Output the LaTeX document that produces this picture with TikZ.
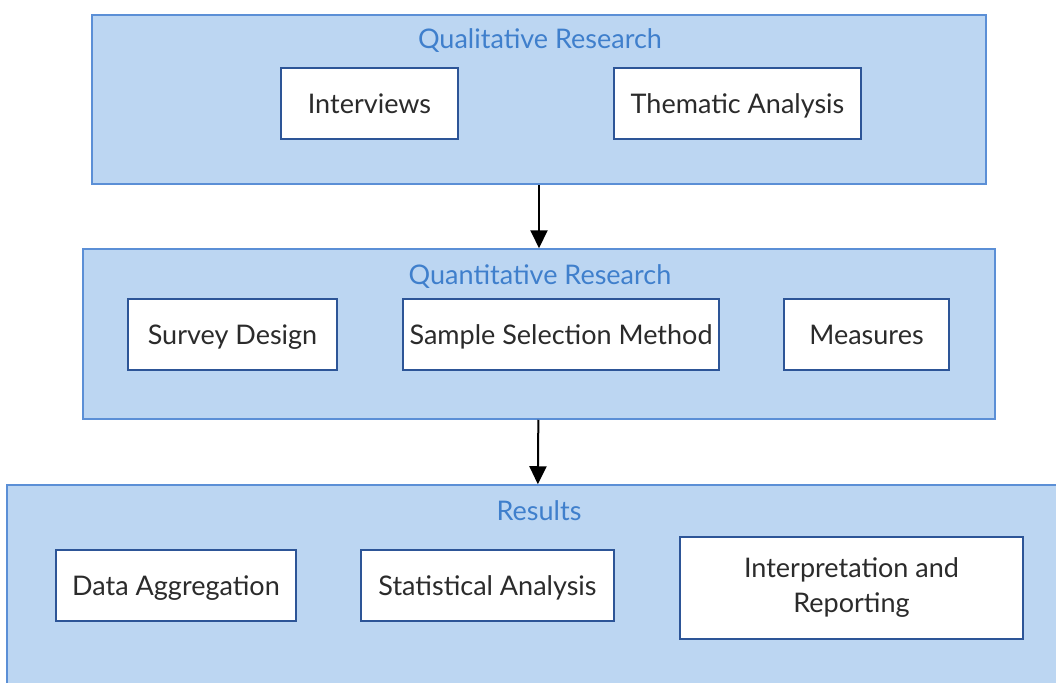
\documentclass[tikz,border=0pt]{standalone}
\usepackage{fontspec}
\setmainfont{Lato}
\usepackage{tikz}
\usepackage{xcolor}
\usetikzlibrary{arrows.meta}

\definecolor{panelfill}{HTML}{BCD6F2}
\definecolor{paneldraw}{HTML}{5B8FD6}
\definecolor{titleblue}{HTML}{3F7FCC}
\definecolor{stepdraw}{HTML}{2D5597}
\definecolor{textgray}{HTML}{2B2B2B}

\begin{document}
\begin{tikzpicture}[x=1pt,y=-1pt]
\clip (0,0) rectangle (1056,682);
\fill[white] (0,0) rectangle (1056,682);
\begin{scope}[every node/.style={rectangle, fill=panelfill, draw=paneldraw, line width=1.5pt, inner sep=0pt}]
\node[minimum width=894pt, minimum height=169pt] (QUAL) at (539,99.5) {};
\node[minimum width=912pt, minimum height=170pt] (QUANT) at (539,334) {};
\node[minimum width=1060pt, minimum height=220pt] (RES) at (537,595) {};
\end{scope}\begin{scope}[every node/.style={text=titleblue, inner sep=0pt, text height=20pt, text depth=0pt, font=\fontsize{27}{32}\selectfont}]
\node (QUAL-T) at (540,39) {Qualitative Research};
\node (QUANT-T) at (540,274) {Quantitative Research};
\node (RES-T) at (539,510) {Results};
\end{scope}\begin{scope}[every node/.style={rectangle, fill=white, draw=stepdraw, line width=2pt, minimum height=71pt, inner sep=0pt, text=textgray, align=center, font=\fontsize{27}{35}\selectfont}]
\node[minimum width=177pt, text height=20pt, text depth=0pt] (INT) at (369.5,103.5) {Interviews};
\node[minimum width=247pt, text height=20pt, text depth=0pt] (THEM) at (737.5,103.5) {Thematic Analysis};
\node[minimum width=209pt, text height=20pt, text depth=0pt] (SURV) at (232.5,334.5) {Survey Design};
\node[minimum width=316pt, text height=20pt, text depth=0pt] (SAMP) at (561,334.5) {Sample Selection Method};
\node[minimum width=165pt, text height=20pt, text depth=0pt] (MEAS) at (866.5,334.5) {Measures};
\node[minimum width=240pt, text height=20pt, text depth=0pt] (AGG) at (176,585.5) {Data Aggregation};
\node[minimum width=253pt, text height=20pt, text depth=0pt] (STAT) at (487.5,585.5) {Statistical Analysis};
\node[minimum width=343pt, minimum height=102pt] (REP) at (851.5,587.5) {Interpretation and\\Reporting};
\end{scope}
\begin{scope}[>={Triangle[length=18pt,width=17pt]}, every edge/.style={draw=black, line width=2pt}]
\path [->] (QUAL)edge node {} (QUANT);
\path [->] (QUANT)edge node {} (RES);
\end{scope}
\end{tikzpicture}
\end{document}
